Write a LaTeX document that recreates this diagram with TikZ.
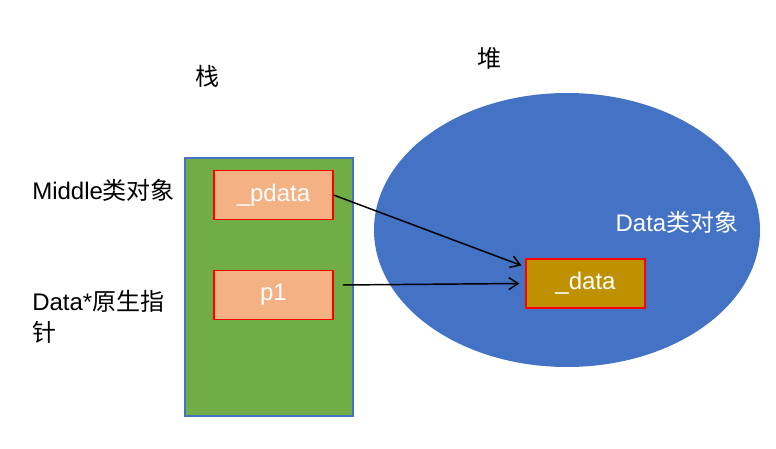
\documentclass[tikz,border=0pt]{standalone}
\usepackage{fontspec}
\setmainfont{Liberation Sans}
\newfontfamily\cjk{Noto Sans CJK SC}
\usetikzlibrary{arrows.meta}
\definecolor{zhan}{HTML}{70AD47}
\definecolor{dui}{HTML}{4472C4}
\definecolor{ptr}{HTML}{F4B183}
\definecolor{obj}{HTML}{BF9000}

\begin{document}
\begin{tikzpicture}[x=0.75pt, y=-0.75pt,
      every node/.style={font=\fontsize{18}{23}\selectfont, inner sep=0pt},
      cell/.style={draw=red, line width=1.1pt, minimum width=89pt, minimum height=37pt, text=white},
      lbl/.style={anchor=west, align=left},
      ptrline/.style={-{Straight Barb[length=7pt, width=9pt]}, line width=1.1pt}]
    \useasboundingbox (0,0) rectangle (776,449);
    % stack and heap
    \node[draw=dui, fill=zhan, line width=1.1pt, minimum width=126pt, minimum height=193.5pt] (stk) at (269,287) {};
    \fill[dui] (567,230) ellipse [x radius=193, y radius=137];
    \node (zt) at (207,76) {\cjk 栈};
    \node (dt) at (489,58) {\cjk 堆};
    % boxes
    \node[cell, fill=ptr] (pd) at (273.5,195) {\_pdata};
    \node[cell, fill=ptr] (p1) at (273.5,295) {p1};
    \node[cell, fill=obj] (da) at (585.5,283.5) {\_data};
    \node[text=white] (dobj) at (677,222) {Data{\cjk 类对象}};
    % labels
    \node[lbl] (mid) at (32,190) {Middle{\cjk 类对象}};
    \node[lbl] (raw) at (32,317) {Data*{\cjk 原生指}\\{\cjk 针}};
    % pointers
    \draw[ptrline] (pd.east) -- ([shift={(-4,-18)}]da.west);
    \draw[ptrline] ([shift={(9,-10)}]p1.east) -- ([shift={(-6,0)}]da.west);
  \end{tikzpicture}
\end{document}
